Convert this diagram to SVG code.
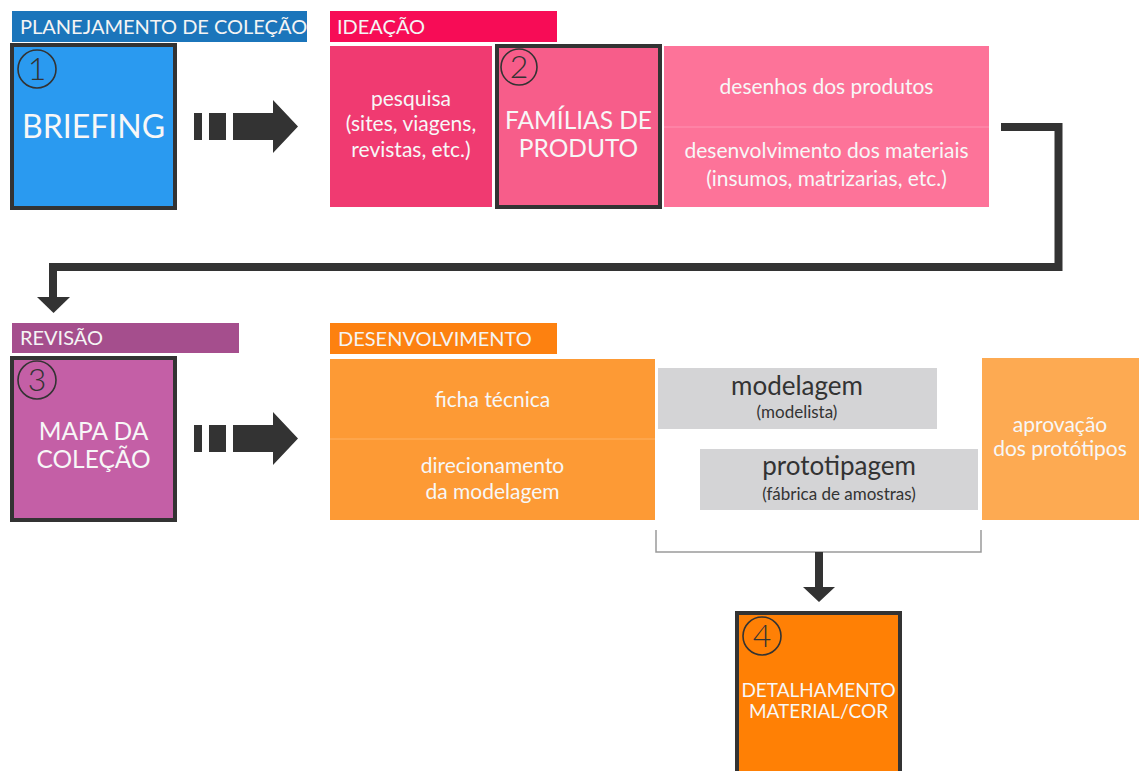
<svg xmlns="http://www.w3.org/2000/svg" width="1139" height="771" viewBox="0 0 1139 771">
  <style>
    text { font-family: Lato, "Open Sans", "Liberation Sans", sans-serif; }
    .hdr { font-size: 20px; fill: #f4f4f4; }
    .big { font-size: 32px; fill: #f7f7f7; text-anchor: middle; }
    .mid { font-size: 24.5px; fill: #f7f7f7; text-anchor: middle; }
    .txt { font-size: 21px; fill: #f7f7f7; text-anchor: middle; }
    .sm  { font-size: 19px; fill: #f7f7f7; text-anchor: middle; }
    .gbig { font-size: 26px; fill: #333; text-anchor: middle; }
    .gsm { font-size: 17px; fill: #333; text-anchor: middle; }
    .num { font-size: 32px; font-weight: 300; fill: #333; text-anchor: middle; }
    .ring { fill: none; stroke: #333; stroke-width: 1.6; }
    .frame { stroke: #333; stroke-width: 4; }
    .dark { fill: #333; }
  </style>
  <defs>
    <g id="blockArrow">
      <rect x="194" y="113" width="8" height="27"/>
      <rect x="209" y="113" width="17" height="27"/>
      <polygon points="233,113 273,113 273,100 298,126.5 273,153 273,140 233,140"/>
    </g>
  </defs>

  <rect width="1139" height="771" fill="#ffffff"/>

  <!-- stage headers -->
  <g id="hdr-planejamento">
    <rect x="12" y="11" width="295" height="31" fill="#1b75bb"/>
    <text class="hdr" x="20" y="34">PLANEJAMENTO DE COLEÇÃO</text>
  </g>
  <g id="hdr-ideacao">
    <rect x="330" y="11" width="227" height="31" fill="#f70c56"/>
    <text class="hdr" x="337" y="34">IDEAÇÃO</text>
  </g>
  <g id="hdr-revisao">
    <rect x="12" y="323" width="227" height="30" fill="#a54e8d"/>
    <text class="hdr" x="20" y="345">REVISÃO</text>
  </g>
  <g id="hdr-desenvolvimento">
    <rect x="330" y="323" width="227" height="31" fill="#fd8110"/>
    <text class="hdr" x="338" y="346">DESENVOLVIMENTO</text>
  </g>

  <!-- step 1 -->
  <g id="briefing">
    <rect class="frame" x="12" y="45" width="163" height="163" fill="#2a9af0"/>
    <circle class="ring" cx="37" cy="69" r="19"/>
    <text class="num" x="37" y="80">1</text>
    <text class="big" x="93.5" y="138">BRIEFING</text>
  </g>

  <!-- ideação -->
  <g id="pesquisa">
    <rect x="330" y="46" width="162" height="161" fill="#f03a71"/>
    <text class="txt" x="411" y="106">pesquisa</text>
    <text class="txt" x="411" y="131">(sites, viagens,</text>
    <text class="txt" x="411" y="157">revistas, etc.)</text>
  </g>
  <g id="familias">
    <rect class="frame" x="497" y="46" width="163" height="161" fill="#f75d8a"/>
    <circle class="ring" cx="519" cy="67" r="18"/>
    <text class="num" x="519" y="78">2</text>
    <text class="mid" x="578.5" y="129">FAMÍLIAS DE</text>
    <text class="mid" x="578.5" y="157">PRODUTO</text>
  </g>
  <g id="desenhos">
    <rect x="664" y="46" width="325" height="161" fill="#fd7399"/>
    <line x1="664" y1="127" x2="989" y2="127" stroke="#ff93b2" stroke-width="1"/>
    <text class="txt" x="826.5" y="94">desenhos dos produtos</text>
    <text class="txt" x="826.5" y="158">desenvolvimento dos materiais</text>
    <text class="txt" x="826.5" y="186">(insumos, matrizarias, etc.)</text>
  </g>

  <!-- step 3 -->
  <g id="mapa">
    <rect class="frame" x="12" y="358" width="163" height="162" fill="#c45fa6"/>
    <circle class="ring" cx="37" cy="380" r="19"/>
    <text class="num" x="37" y="391">3</text>
    <text class="mid" x="93.5" y="440">MAPA DA</text>
    <text class="mid" x="93.5" y="468">COLEÇÃO</text>
  </g>

  <!-- desenvolvimento -->
  <g id="ficha">
    <rect x="330" y="359" width="325" height="161" fill="#fd9a35"/>
    <line x1="330" y1="439" x2="655" y2="439" stroke="#ffb162" stroke-width="1"/>
    <text class="txt" x="492.5" y="407">ficha técnica</text>
    <text class="txt" x="492.5" y="473">direcionamento</text>
    <text class="txt" x="492.5" y="499">da modelagem</text>
  </g>
  <g id="modelagem">
    <rect x="658" y="368" width="279" height="61" fill="#d4d4d6"/>
    <text class="gbig" x="797" y="395">modelagem</text>
    <text class="gsm" x="797" y="418">(modelista)</text>
  </g>
  <g id="prototipagem">
    <rect x="700" y="449" width="278" height="61" fill="#d4d4d6"/>
    <text class="gbig" x="839" y="475">prototipagem</text>
    <text class="gsm" x="839" y="500">(fábrica de amostras)</text>
  </g>
  <g id="aprovacao">
    <rect x="982" y="358" width="157" height="162" fill="#fdaa52"/>
    <text class="txt" x="1060" y="432">aprovação</text>
    <text class="txt" x="1060" y="456">dos protótipos</text>
  </g>

  <!-- step 4 -->
  <g id="detalhamento">
    <rect class="frame" x="737" y="613" width="163" height="170" fill="#ff8005"/>
    <circle class="ring" cx="762" cy="636" r="19"/>
    <text class="num" x="762" y="647">4</text>
    <text class="sm" x="818.5" y="697">DETALHAMENTO</text>
    <text class="sm" x="818.5" y="718">MATERIAL/COR</text>
  </g>

  <!-- connectors -->
  <g id="connectors">
    <use href="#blockArrow" class="dark"/>
    <use href="#blockArrow" class="dark" transform="translate(0,312)"/>
    <path d="M1001,127 H1058.5 V267 H53 V298" fill="none" stroke="#333" stroke-width="8"/>
    <polygon class="dark" points="37,297 70,297 53.5,313"/>
    <path d="M656,530 V552 H981 V530" fill="none" stroke="#9a9a9a" stroke-width="1.5"/>
    <polygon class="dark" points="815,552 823,552 823,587 835,587 819,602 803,587 815,587"/>
  </g>
</svg>
